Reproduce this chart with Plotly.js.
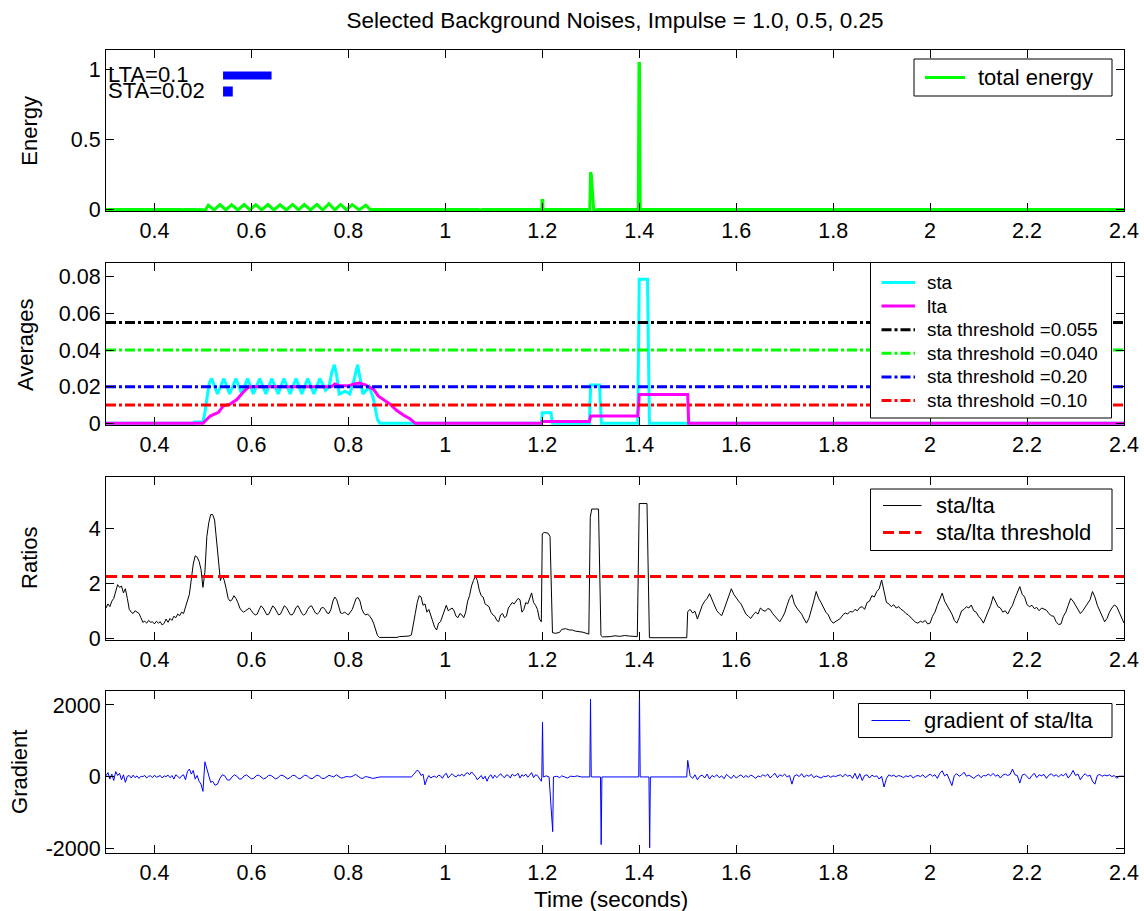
<!DOCTYPE html>
<html>
<head>
<meta charset="utf-8">
<script src="https://cdn.plot.ly/plotly-3.0.1.min.js"></script>
<style>
  html, body { margin: 0; padding: 0; background: #ffffff; }
  #chart { width: 1144px; height: 911px; }
</style>
</head>
<body>
<div id="chart"></div>
<script>
// ---------------- data ----------------

// total energy (seconds, energy)
const energyTime = [0.300, 0.336, 0.339, 0.342, 0.456, 0.459, 0.462, 0.485, 0.488, 0.491, 0.500, 0.505,
  0.511, 0.523, 0.535, 0.547, 0.559, 0.572, 0.585, 0.597, 0.609, 0.621, 0.634, 0.646, 0.659, 0.672,
  0.685, 0.697, 0.709, 0.722, 0.735, 0.747, 0.760, 0.772, 0.784, 0.796, 0.808, 0.822, 0.836, 0.845,
  1.068, 1.072, 1.076, 1.099, 1.103, 1.107, 1.158, 1.162, 1.166,
  1.199, 1.1995, 1.201, 1.2015, 1.298, 1.2995, 1.301, 1.306, 1.309, 1.312, 1.315,
  1.398, 1.3995, 1.4005, 1.402, 1.440, 1.443, 1.446, 1.570, 1.574, 1.578,
  1.895, 1.899, 1.903, 2.235, 2.239, 2.243, 2.400];
const energyValue = [0, 0, -0.005, 0, 0, -0.006, 0, 0, -0.004, 0, 0, -0.003,
  0.030, -0.003, 0.035, -0.003, 0.034, -0.003, 0.035, -0.003, 0.034, -0.003, 0.035, -0.003, 0.034, -0.003,
  0.036, -0.003, 0.035, -0.003, 0.036, -0.003, 0.042, -0.003, 0.036, -0.003, 0.035, -0.003, 0.030, 0,
  0, -0.006, 0, 0, -0.004, 0, 0, -0.004, 0,
  0, 0.064, 0.064, 0, 0, 0.265, 0.25, 0, -0.005, -0.005, 0,
  0, 1.04, 1.04, 0, 0, -0.005, 0, 0, -0.004, 0,
  0, -0.004, 0, 0, -0.004, 0, 0];

// averaging windows (seconds)
const ltaWindow = 0.1;
const staWindow = 0.02;
const windowStart = 0.5415;

// short-term average
const staTime = [0.300, 0.480, 0.482, 0.500, 0.504, 0.509, 0.513, 0.518, 0.530, 0.543, 0.555, 0.568,
  0.580, 0.592, 0.604, 0.617, 0.630, 0.642, 0.655, 0.667, 0.680, 0.692, 0.704, 0.716, 0.729, 0.741,
  0.753, 0.760, 0.766, 0.771, 0.776, 0.781, 0.793, 0.803, 0.812, 0.819, 0.824, 0.830, 0.843, 0.851,
  0.860, 0.865, 1.198, 1.200, 1.218, 1.221, 1.297, 1.300, 1.318, 1.322, 1.397, 1.400, 1.417, 1.421, 2.400];
const staValue = [0, 0, 0.0008, 0.0008, 0.006, 0.016, 0.022, 0.0245, 0.016, 0.0245, 0.016, 0.0245,
  0.016, 0.0245, 0.016, 0.0245, 0.016, 0.0245, 0.016, 0.0245, 0.016, 0.0245, 0.016, 0.0245, 0.016, 0.0245,
  0.018, 0.020, 0.028, 0.032, 0.026, 0.016, 0.0175, 0.016, 0.024, 0.032, 0.025, 0.016, 0.020, 0.014,
  0.002, 0, 0, 0.0058, 0.0058, 0, 0, 0.021, 0.021, 0, 0, 0.0787, 0.0787, 0, 0];

// long-term average
const ltaTime = [0.300, 0.500, 0.515, 0.525, 0.532, 0.542, 0.556, 0.570, 0.583, 0.594, 0.600, 0.765,
  0.772, 0.782, 0.800, 0.812, 0.822, 0.835, 0.852, 0.862, 0.872, 0.886, 0.900, 0.914, 0.927, 0.938,
  1.198, 1.200, 1.297, 1.300, 1.397, 1.400, 1.500, 1.502, 2.400];
const ltaValue = [0, 0, 0.004, 0.005, 0.006, 0.0095, 0.0105, 0.013, 0.017, 0.0197, 0.020, 0.020,
  0.0215, 0.0205, 0.0205, 0.0215, 0.022, 0.021, 0.0185, 0.0148, 0.013, 0.0105, 0.007, 0.0044, 0.0025, 0,
  0, 0.001, 0.001, 0.004, 0.004, 0.0158, 0.0158, 0, 0];

// sta thresholds
const staThresholdValues = [0.055, 0.040, 0.020, 0.010];
const staThresholdLabels = ['sta threshold =0.055', 'sta threshold =0.040', 'sta threshold =0.20', 'sta threshold =0.10'];
const staThresholdColors = ['#000000', '#00ff00', '#0000ff', '#ff0000'];

// sta/lta ratio, sampled segments
const ratioA = [1.10,1.25,1.15,1.35,1.45,1.70,1.95,1.85,1.90,1.65,
  1.80,1.45,1.05,0.95,0.90,1.00,0.95,0.90,0.75,0.58,
  0.62,0.55,0.65,0.58,0.60,0.52,0.62,0.55,0.60,0.48,
  0.55,0.70,0.58,0.72,0.65,0.80,0.75,0.88,0.82,0.95,
  0.90,1.15,1.30,1.60,2.15,2.70,3.00,2.95,2.80,2.50,
  1.85,2.40,3.70,4.20,4.50,4.50,4.30,3.50,2.70,2.10,
  2.30,2.10,1.80,1.45,1.35,1.40,1.55,1.45,1.30,1.10,
  1.00,0.95,1.00,1.05,1.10,1.00,0.90,0.85,0.88,1.05,
  1.18,1.10,0.95,0.85,0.88,1.05,1.18,1.10,0.95,0.85,
  0.88,1.02,1.18,1.12,0.98,0.86,0.85,0.95,1.12,1.18,
  1.05,0.90,0.84,0.90,1.05,1.15,1.18,1.05,0.92,0.88,
  0.95,1.10,1.12,1.05,0.92,0.90,1.05,1.35,1.50,1.40,
  1.10,0.92,0.90,0.95,0.90,0.85,0.95,1.05,1.25,1.45,
  1.48,1.35,1.05,0.90,0.85,0.88,0.80,0.70,0.55,0.30,
  0.10,0.03];
const ratioQuietTime = [0.870, 0.900, 0.905, 0.925, 0.930];
const ratioQuietValue = [0.03, 0.03, 0.06, 0.08, 0.12];
const ratioC = [0.45,0.90,1.30,1.55,1.50,1.20,1.25,0.95,1.05,0.80,
  0.55,0.40,0.30,0.55,0.60,0.80,0.95,1.20,1.00,1.05,
  1.10,1.00,0.80,0.75,0.90,0.85,0.75,0.95,1.35,1.55,
  1.90,2.10,2.25,2.10,1.75,1.55,1.50,1.25,1.20,1.15,
  0.95,0.85,0.80,0.65,0.60,0.85,0.90,0.75,0.80,1.10,
  1.20,1.30,1.25,1.35,1.45,1.40,0.95,1.05,1.30,1.25,
  1.45,1.65,1.30,1.20,1.05,0.70,0.60];
const ratioImpulseTime = [1.200, 1.204, 1.212, 1.216, 1.221, 1.228, 1.236, 1.240, 1.248, 1.256, 1.262, 1.268,
  1.276, 1.284, 1.296, 1.299, 1.302, 1.316, 1.321, 1.324, 1.340, 1.350, 1.360, 1.370, 1.380, 1.396,
  1.400, 1.416, 1.421, 1.498];
const ratioImpulseValue = [3.80, 3.85, 3.82, 3.70, 0.20, 0.18, 0.22, 0.32, 0.35, 0.30, 0.30, 0.26,
  0.24, 0.22, 0.15, 4.40, 4.70, 4.70, 0.10, 0.05, 0.06, 0.09, 0.07, 0.10, 0.08, 0.06,
  4.90, 4.90, 0.02, 0.02];
const ratioD = [0.97,1.05,0.92,0.98,0.70,0.95,1.20,1.35,1.45,1.62,
  1.40,1.25,1.00,0.90,0.82,1.05,1.30,1.55,1.80,1.60,
  1.45,1.35,1.25,1.05,0.88,0.80,0.72,0.85,0.95,0.88,
  1.10,1.02,0.98,1.08,1.05,0.90,0.80,0.68,0.60,0.75,
  0.92,1.20,1.45,1.58,1.25,1.10,1.00,0.88,0.70,0.55,
  0.72,1.00,1.35,1.70,1.45,1.30,1.10,0.95,0.85,0.65,
  0.55,0.60,0.68,0.72,0.85,0.92,0.88,0.98,0.95,1.05,
  1.00,1.12,1.15,1.05,1.30,1.35,1.55,1.50,1.70,1.80,
  2.12,1.70,1.30,1.25,1.15,1.22,1.10,1.15,1.05,1.00,
  0.90,0.85,0.75,0.65,0.58,0.55,0.62,0.58,0.65,0.52,
  0.55,0.80,0.95,1.20,1.40,1.64,1.35,1.20,1.00,0.88,
  0.65,0.55,0.75,1.00,1.05,1.15,1.10,1.21,1.00,0.95,
  0.80,0.70,0.55,0.75,1.00,1.20,1.52,1.35,1.15,1.10,
  0.95,1.00,0.88,1.05,1.20,1.45,1.70,1.88,1.60,1.50,
  1.22,1.15,1.20,1.08,1.12,1.00,1.10,1.05,1.02,0.90,
  0.82,0.80,0.60,0.50,0.52,0.80,0.95,1.20,1.45,1.35,
  1.20,1.05,0.90,1.00,1.15,1.30,1.40,1.70,1.50,1.20,
  1.00,0.75,0.60,0.72,0.95,1.10,1.21,1.15,0.95,0.75,
  0.55];
const ratioThreshold = 2.25;

// gradient of sta/lta, sampled segments
const gradA = [30,120,-60,80,-100,150,40,100,-80,60,
  -150,20,40,-30,50,-20,30,-40,20,10,
  40,-30,20,30,-20,50,-10,20,40,-30,
  30,10,50,-20,40,-60,60,20,-40,30,
  60,-80,150,220,80,180,-60,40,-120,-200,
  -400,420,250,20,-150];
const gradB = [-120,-230,-200,-40,60,30,-80,-90,0,60,
  20,-60,-50,30,55,0,-55,-35,35,50,
  -10,-55,-25,40,45,-15,-55,-20,45,40,
  -20,-55,-15,45,35,-25,-55,-10,50,30,
  -30,-50,0,50,25,-35,-45,5,45,20,
  0,60,20,-30,-20,10,5,0,30,70,
  20,-30,-40,10,0,-20,-40,-30,-10,0];
const gradQuietTime = [0.900];
const gradQuietValue = [0];
const gradC = [0,60,120,190,150,40,80,-220,-60,40,
  -30,10,20,-20,50,30,-40,60,100,-30,
  40,90,30,0,60,30,80,20,90,120,
  60,140,80,20,-80,-30,40,-60,20,-120,
  10,60,-40,50,-20,30,90,20,-20,60,
  40,-30,80,30,50,100,-30,60,20,80,
  -10,50,120,-20,60,40,-60,-120];
const gradImpulseTime = [1.199, 1.2005, 1.202, 1.208, 1.214, 1.2215, 1.223, 1.230, 1.236, 1.240, 1.246,
  1.252, 1.258, 1.266, 1.272, 1.280, 1.298, 1.2995, 1.301, 1.320, 1.3215, 1.323, 1.399, 1.4005, 1.402,
  1.420, 1.4215, 1.423, 1.498];
const gradImpulseValue = [0, 1520, 0, 30, 0, -1520, 0, 20, -20, 30, 0,
  -30, 20, 10, 30, 0, 0, 2160, 0, 0, -1880, 0, 0, 2400, 0,
  0, -1970, 0, 0];
const gradD = [460,30,-40,60,-80,20,50,-30,80,-60,
  40,0,60,-20,30,-50,70,10,-40,50,
  -30,20,60,-20,40,-10,50,20,-40,30,
  0,60,20,80,-30,40,100,-20,60,20,
  80,0,40,-200,30,60,10,90,-10,50,
  20,70,-20,30,0,-30,20,10,40,-10,
  30,10,40,60,0,80,20,50,-40,100,
  -60,90,-100,40,60,-30,50,10,30,-60,
  20,-280,-40,60,20,50,0,40,20,-20,
  30,10,50,-30,20,40,10,60,-20,40,
  80,20,60,-40,100,170,30,80,-60,-240,
  40,90,20,60,130,20,50,0,-40,20,
  60,-20,40,30,80,30,100,20,60,-30,
  50,80,40,70,220,60,40,-170,50,80,
  20,-60,40,100,-20,60,30,70,-40,50,
  90,20,60,0,70,30,100,-30,60,180,
  40,80,-80,30,90,20,50,-120,-200,40,
  70,20,50,30,60,10,40,-40,20,30,
  20];

// axis ticks
const timeTicks = [0.4, 0.6, 0.8, 1.0, 1.2, 1.4, 1.6, 1.8, 2.0, 2.2, 2.4];
const timeTickText = ['0.4', '0.6', '0.8', '1', '1.2', '1.4', '1.6', '1.8', '2', '2.2', '2.4'];
const energyTicks = [0, 0.5, 1];
const energyTickText = ['0', '0.5', '1'];
const averageTicks = [0, 0.02, 0.04, 0.06, 0.08];
const averageTickText = ['0', '0.02', '0.04', '0.06', '0.08'];
const ratioTicks = [0, 2, 4];
const ratioTickText = ['0', '2', '4'];
const gradientTicks = [-2000, 0, 2000];
const gradientTickText = ['-2000', '0', '2000'];

// ---------------- helpers ----------------
function sampleTimes(t0, dt, values) {
  return values.map((v, i) => Math.round((t0 + i * dt) * 100000) / 100000);
}
function joinSegments(segments) {
  const x = [], y = [];
  segments.forEach(s => { x.push(...s.t); y.push(...s.v); });
  return { x, y };
}

const ratioSeries = joinSegments([
  { t: sampleTimes(0.300, 0.004, ratioA), v: ratioA },
  { t: ratioQuietTime, v: ratioQuietValue },
  { t: sampleTimes(0.934, 0.004, ratioC), v: ratioC },
  { t: ratioImpulseTime, v: ratioImpulseValue },
  { t: sampleTimes(1.500, 0.005, ratioD), v: ratioD }
]);
const gradientSeries = joinSegments([
  { t: sampleTimes(0.300, 0.004, gradA), v: gradA },
  { t: sampleTimes(0.520, 0.005, gradB), v: gradB },
  { t: gradQuietTime, v: gradQuietValue },
  { t: sampleTimes(0.930, 0.004, gradC), v: gradC },
  { t: gradImpulseTime, v: gradImpulseValue },
  { t: sampleTimes(1.500, 0.005, gradD), v: gradD }
]);

const timeRange = [0.3, 2.4];
const FONT = 'Liberation Sans, Arial, Helvetica, sans-serif';
const WIDTH = 1144, HEIGHT = 911;
const MARGIN = { l: 106, r: 20, t: 50, b: 58 };

// ---------------- traces ----------------
const DASHDOT = '10px,3px,3px,3px';
const traces = [];
traces.push({
  x: energyTime, y: energyValue, type: 'scatter', mode: 'lines', name: 'total energy',
  line: { color: '#00ff00', width: 3 }, xaxis: 'x', yaxis: 'y', panel: 1
});
traces.push({
  x: staTime, y: staValue, type: 'scatter', mode: 'lines', name: 'sta',
  line: { color: '#00ffff', width: 3 }, xaxis: 'x2', yaxis: 'y2', panel: 2
});
traces.push({
  x: ltaTime, y: ltaValue, type: 'scatter', mode: 'lines', name: 'lta',
  line: { color: '#ff00ff', width: 3 }, xaxis: 'x2', yaxis: 'y2', panel: 2
});
staThresholdValues.forEach((v, i) => {
  traces.push({
    x: timeRange, y: [v, v], type: 'scatter', mode: 'lines', name: staThresholdLabels[i],
    line: { color: staThresholdColors[i], width: 3, dash: DASHDOT },
    xaxis: 'x2', yaxis: 'y2', panel: 2
  });
});
traces.push({
  x: ratioSeries.x, y: ratioSeries.y, type: 'scatter', mode: 'lines', name: 'sta/lta',
  line: { color: '#000000', width: 1 }, xaxis: 'x3', yaxis: 'y3', panel: 3
});
traces.push({
  x: timeRange, y: [ratioThreshold, ratioThreshold], type: 'scatter', mode: 'lines', name: 'sta/lta threshold',
  line: { color: '#ff0000', width: 3, dash: '11px,5px' }, xaxis: 'x3', yaxis: 'y3', panel: 3
});
traces.push({
  x: gradientSeries.x, y: gradientSeries.y, type: 'scatter', mode: 'lines', name: 'gradient of sta/lta',
  line: { color: '#0000ff', width: 1 }, xaxis: 'x4', yaxis: 'y4', panel: 4
});

// ---------------- legend boxes (pixel placement inside each panel) ----------------
const plotW = WIDTH - MARGIN.l - MARGIN.r;
const plotH = HEIGHT - MARGIN.t - MARGIN.b;
const px = v => (v - MARGIN.l) / plotW;
const py = v => (HEIGHT - MARGIN.b - v) / plotH;

const legendBoxes = [
  { panel: 1, box: [914, 59, 1112, 96], line: [925, 965], textX: 976, firstRow: 77.5, rowStep: 0, fontSize: 22 },
  { panel: 2, box: [870.5, 262.5, 1111.5, 418], line: [881.5, 915], textX: 924.5, firstRow: 282.5, rowStep: 23.6, fontSize: 18.8 },
  { panel: 3, box: [870.5, 489, 1112, 550.5], line: [883, 921.5], textX: 934, firstRow: 505.5, rowStep: 27, fontSize: 22 },
  { panel: 4, box: [858.5, 703.5, 1112, 737.5], line: [871.5, 910], textX: 921.5, firstRow: 720.5, rowStep: 0, fontSize: 22 }
];

const legendShapes = [];
const legendTexts = [];
legendBoxes.forEach(lb => {
  legendShapes.push({
    type: 'rect', xref: 'paper', yref: 'paper',
    x0: px(lb.box[0]), x1: px(lb.box[2]), y0: py(lb.box[3]), y1: py(lb.box[1]),
    fillcolor: '#ffffff', line: { color: '#000000', width: 1 }, layer: 'above'
  });
  traces.filter(t => t.panel === lb.panel).forEach((t, i) => {
    const rowY = lb.firstRow + i * lb.rowStep;
    legendShapes.push({
      type: 'line', xref: 'paper', yref: 'paper',
      x0: px(lb.line[0]), x1: px(lb.line[1]), y0: py(rowY), y1: py(rowY),
      line: { color: t.line.color, width: t.line.width, dash: t.line.dash || 'solid' }, layer: 'above'
    });
    legendTexts.push({
      text: t.name, xref: 'paper', yref: 'paper', x: px(lb.textX), y: py(rowY),
      xanchor: 'left', yanchor: 'middle', showarrow: false,
      font: { family: FONT, size: lb.fontSize, color: '#000000' }
    });
  });
});
traces.forEach(t => { t.showlegend = false; delete t.panel; });

// ---------------- layout ----------------
const axisStyle = {
  showline: true, linecolor: '#000000', linewidth: 1, mirror: 'ticks',
  ticks: 'inside', ticklen: 8, tickwidth: 1, tickcolor: '#000000',
  showgrid: false, zeroline: false,
  tickfont: { family: FONT, size: 21.5, color: '#000000' }
};
function xAxis(anchor) {
  return Object.assign({}, axisStyle, {
    anchor: anchor, domain: [0, 1], range: timeRange,
    tickmode: 'array', tickvals: timeTicks, ticktext: timeTickText
  });
}
function yAxis(anchor, domain, range, vals, text) {
  return Object.assign({}, axisStyle, {
    anchor: anchor, domain: domain, range: range,
    tickmode: 'array', tickvals: vals, ticktext: text
  });
}
function yTitle(text, xPaper, yPaper) {
  return {
    text: text, xref: 'paper', yref: 'paper', x: xPaper, y: yPaper,
    xanchor: 'center', yanchor: 'middle', textangle: -90, showarrow: false,
    font: { family: FONT, size: 22, color: '#000000' }
  };
}

const layout = {
  width: WIDTH, height: HEIGHT,
  margin: MARGIN,
  paper_bgcolor: '#ffffff', plot_bgcolor: '#ffffff',
  showlegend: false,
  title: {
    text: 'Selected Background Noises, Impulse = 1.0, 0.5, 0.25',
    x: 0.5, xref: 'paper', xanchor: 'center', y: 0.978, yref: 'container', yanchor: 'middle',
    font: { family: FONT, size: 22.5, color: '#000000' }
  },
  xaxis: xAxis('y'),
  xaxis2: xAxis('y2'),
  xaxis3: xAxis('y3'),
  xaxis4: xAxis('y4'),
  yaxis: yAxis('x', [0.7989, 1], [-0.014, 1.136], energyTicks, energyTickText),
  yaxis2: yAxis('x2', [0.533, 0.7344], [-0.0009, 0.0874], averageTicks, averageTickText),
  yaxis3: yAxis('x3', [0.2653, 0.4686], [-0.062, 5.876], ratioTicks, ratioTickText),
  yaxis4: yAxis('x4', [0, 0.2017], [-2114, 2388], gradientTicks, gradientTickText),
  shapes: [
    { type: 'rect', xref: 'x', yref: 'y', x0: windowStart, x1: windowStart + ltaWindow, y0: 0.926, y1: 0.983,
      fillcolor: '#0000ff', line: { width: 0 } },
    { type: 'rect', xref: 'x', yref: 'y', x0: windowStart, x1: windowStart + staWindow, y0: 0.805, y1: 0.876,
      fillcolor: '#0000ff', line: { width: 0 } }
  ].concat(legendShapes),
  annotations: [
    { text: 'LTA=' + ltaWindow, xref: 'x', yref: 'y', x: timeRange[0], y: 0.958, xanchor: 'left', yanchor: 'middle',
      showarrow: false, font: { family: FONT, size: 22, color: '#000000' } },
    { text: 'STA=' + staWindow, xref: 'x', yref: 'y', x: timeRange[0], y: 0.851, xanchor: 'left', yanchor: 'middle',
      showarrow: false, font: { family: FONT, size: 22, color: '#000000' } },
    yTitle('Energy', -0.0747, 0.8994),
    yTitle('Averages', -0.0786, 0.6339),
    yTitle('Ratios', -0.0747, 0.3674),
    yTitle('Gradient', -0.0845, 0.1009),
    { text: 'Time (seconds)', xref: 'paper', yref: 'paper', x: 0.4961, y: -0.0585,
      xanchor: 'center', yanchor: 'middle', showarrow: false,
      font: { family: FONT, size: 22.5, color: '#000000' } }
  ].concat(legendTexts)
};

Plotly.newPlot('chart', traces, layout, { displayModeBar: false, responsive: false });
</script>
</body>
</html>
